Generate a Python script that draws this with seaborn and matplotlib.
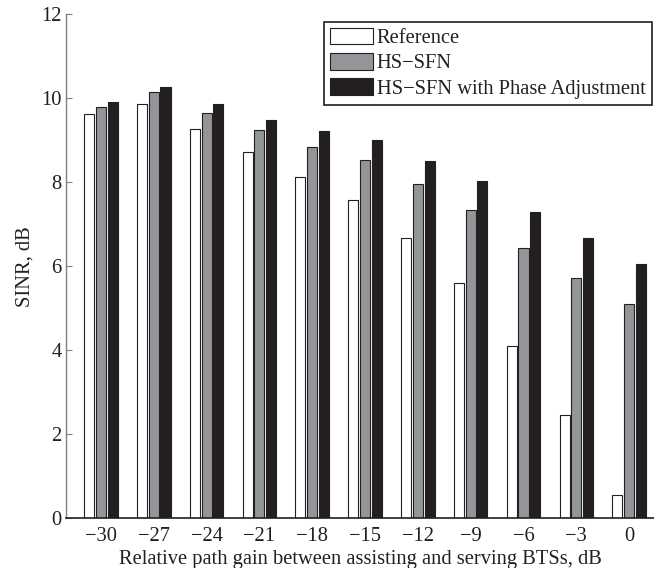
import numpy as np
import pandas as pd
import seaborn as sns
import matplotlib
matplotlib.use("Agg")
import matplotlib.pyplot as plt

# Relative path gain (dB) and SINR (dB) for each scheme
path_gain = ["\u221230", "\u221227", "\u221224", "\u221221", "\u221218", "\u221215",
             "\u221212", "\u22129", "\u22126", "\u22123", "0"]
sinr_reference = [9.63, 9.86, 9.28, 8.72, 8.13, 7.58, 6.67, 5.60, 4.10, 2.46, 0.55]
sinr_hs_sfn = [9.80, 10.14, 9.65, 9.24, 8.83, 8.52, 7.96, 7.34, 6.44, 5.72, 5.10]
sinr_hs_sfn_phase = [9.90, 10.28, 9.86, 9.49, 9.23, 9.01, 8.51, 8.04, 7.29, 6.67, 6.05]
series_names = ["Reference", "HS\u2212SFN", "HS\u2212SFN with Phase Adjustment"]
series_colors = ["#ffffff", "#939598", "#231f20"]

df = pd.DataFrame({
    "gain": path_gain * 3,
    "sinr": sinr_reference + sinr_hs_sfn + sinr_hs_sfn_phase,
    "scheme": [series_names[0]] * len(path_gain)
              + [series_names[1]] * len(path_gain)
              + [series_names[2]] * len(path_gain),
})

sns.set_style("ticks")
plt.rcParams["font.family"] = ["Liberation Serif", "DejaVu Serif"]

FS = 14.8
fig = plt.figure(figsize=(6.54, 5.68), dpi=100)
ax = fig.add_axes([66 / 654, 49.7 / 568, 1 - 66 / 654, 504 / 568])

sns.barplot(data=df, x="gain", y="sinr", hue="scheme", order=path_gain,
            hue_order=series_names, palette=series_colors, width=0.67, gap=0.15,
            edgecolor="#231f20", linewidth=0.8, saturation=1, errorbar=None, ax=ax)

ax.set_ylim(0, 12)
ax.set_xlim(-0.66, 10.47)
ax.set_yticks(np.arange(0, 13, 2))
ax.tick_params(axis="y", direction="in", length=4, width=0.8, color="#808080",
               labelsize=FS, pad=3, labelcolor="#231f20")
ax.tick_params(axis="x", length=0, labelsize=FS, pad=6, labelcolor="#231f20")

ax.spines["top"].set_visible(False)
ax.spines["right"].set_visible(False)
ax.spines["left"].set_color("#808080")
ax.spines["left"].set_linewidth(1.0)
ax.spines["bottom"].set_color("#231f20")
ax.spines["bottom"].set_linewidth(1.2)

ax.set_xlabel("Relative path gain between assisting and serving BTSs, dB",
              fontsize=FS, color="#231f20", labelpad=3)
ax.set_ylabel("SINR, dB", fontsize=FS, color="#231f20", labelpad=5)

handles, labels = ax.get_legend_handles_labels()
ax.legend(handles, labels, loc="upper right",
          bbox_to_anchor=(652 / 654, 1 - 21.7 / 568), bbox_transform=fig.transFigure,
          frameon=True, fancybox=False, edgecolor="#231f20", framealpha=1,
          fontsize=FS, handlelength=2.1, handleheight=0.85, labelspacing=0.24,
          handletextpad=0.2, borderpad=0.3, borderaxespad=0)
leg = ax.get_legend()
leg.get_frame().set_linewidth(1.2)
for t in leg.get_texts():
    t.set_color("#231f20")

fig.savefig("out.png", dpi=100)
